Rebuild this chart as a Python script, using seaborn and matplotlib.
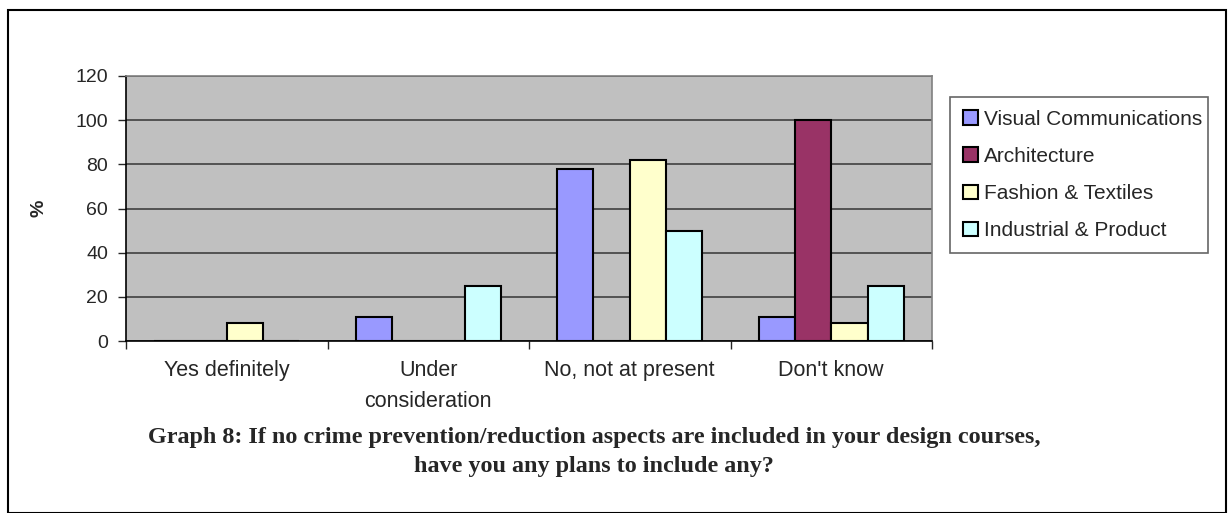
import pandas as pd
import numpy as np
import matplotlib.pyplot as plt
import seaborn as sns
from matplotlib.patches import Rectangle

# Datos
categorias = ['Yes definitely', 'Under\nconsideration', 'No, not at present', "Don't know"]
series = ['Visual Communications', 'Architecture', 'Fashion & Textiles', 'Industrial & Product']
visual_comm = [0, 11, 78, 11]
architecture = [0, 0, 0, 100]
fashion = [8, 0, 82, 8]
industrial = [0, 25, 50, 25]
colores = ['#9999FF', '#993366', '#FFFFCC', '#CCFFFF']

df = pd.DataFrame({
    'categoria': categorias * 4,
    'serie': np.repeat(series, 4),
    'valor': visual_comm + architecture + fashion + industrial,
})

sns.set_style('white')
plt.rcParams['font.family'] = ['Liberation Sans', 'DejaVu Sans']

fig = plt.figure(figsize=(12.31, 5.13), dpi=100)
ax = fig.add_axes([126 / 1231, 1 - 341 / 513, 806 / 1231, 265 / 513])

sns.barplot(data=df, x='categoria', y='valor', hue='serie', order=categorias,
            hue_order=series, palette=colores, width=0.72, edgecolor='black',
            linewidth=1.5, saturation=1, ax=ax)

ax.set_facecolor('#C0C0C0')
ax.set_ylim(0, 120)
ax.set_xlim(-0.5, 3.5)
ax.set_yticks(range(0, 121, 20))
ax.yaxis.grid(True, color='#404040', linewidth=1.2)
ax.set_axisbelow(True)
ax.tick_params(axis='y', direction='out', length=6, width=1, pad=7, labelsize=14, left=True)
ax.set_xticks(np.arange(-0.5, 4, 1), minor=True)
ax.tick_params(axis='x', which='minor', direction='out', length=6, width=1, bottom=True)
ax.tick_params(axis='x', which='major', length=0, pad=14, labelsize=15.5)
for t in ax.get_xticklabels():
    t.set_linespacing(1.6)
ax.set_xlabel('')
ax.set_ylabel('%', fontsize=14, fontweight='bold')
ax.yaxis.set_label_coords(-0.098, 0.5)

for lado in ['top', 'right']:
    ax.spines[lado].set_color('#808080')
    ax.spines[lado].set_linewidth(1.2)
for lado in ['left', 'bottom']:
    ax.spines[lado].set_color('black')
    ax.spines[lado].set_linewidth(1.2)

# leyenda a la derecha
handles, labels = ax.get_legend_handles_labels()
ax.get_legend().remove()
leg = fig.legend(handles, labels, loc='upper left',
                 bbox_to_anchor=(950 / 1231, 1 - 250 / 513, 258 / 1231, 153 / 513),
                 mode='expand', fontsize=15, frameon=True, fancybox=False,
                 handlelength=0.7, handleheight=0.7, handletextpad=0.3,
                 labelspacing=0.87, borderpad=0.62, borderaxespad=0)
leg.get_frame().set_edgecolor('#404040')
leg.get_frame().set_linewidth(1.2)

# titulo del grafico abajo
fig.text(594 / 1231, 1 - 452 / 513,
         'Graph 8: If no crime prevention/reduction aspects are included in your design courses,\n'
         'have you any plans to include any?',
         ha='center', va='center', fontsize=17.4, fontweight='bold',
         family=['Liberation Serif', 'DejaVu Serif'], linespacing=1.55)

# marco exterior
fig.patches.append(Rectangle((8 / 1231, 0), 1218 / 1231, 503 / 513, transform=fig.transFigure,
                             fill=False, edgecolor='black', linewidth=1.5))

plt.savefig('out.png', dpi=100)
